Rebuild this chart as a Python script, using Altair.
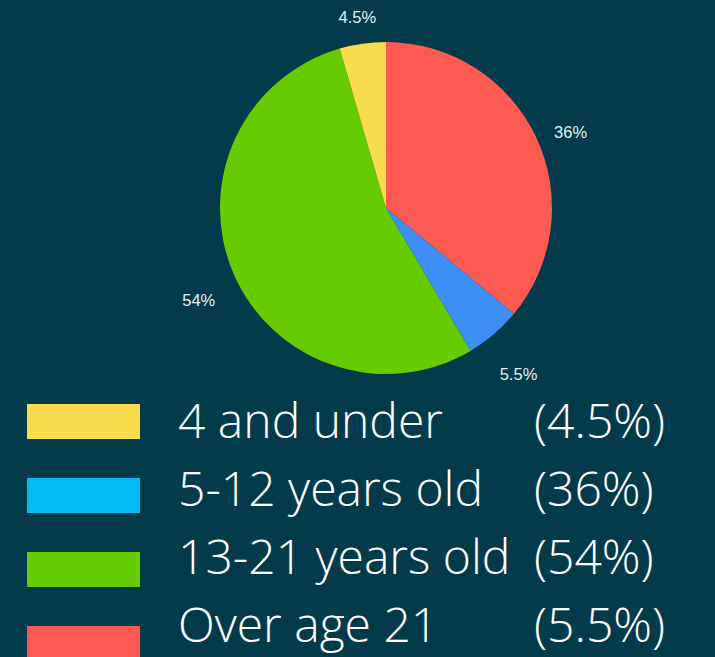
import altair as alt
import pandas as pd

# Pie (clockwise from 12 o'clock)
pie_values = [36, 5.5, 54, 4.5]
pie_labels = ["36%", "5.5%", "54%", "4.5%"]
pie_colors = ["#fd5a52", "#3d8ef5", "#66cc00", "#f8dc4b"]

# Legend block
categories = ["4 and under", "5-12 years old", "13-21 years old", "Over age 21"]
legend_pcts = ["(4.5%)", "(36%)", "(54%)", "(5.5%)"]
legend_colors = ["#f8dc4b", "#00bcf2", "#66cc00", "#fd5a52"]

BG = "#033b4a"

pie_df = pd.DataFrame({
    "idx": list(range(len(pie_values))),
    "value": pie_values,
    "label": pie_labels,
    "color": pie_colors,
})
leg_df = pd.DataFrame({
    "cat": categories,
    "pct": legend_pcts,
    "color": legend_colors,
})

theta = alt.Theta("value:Q", stack=True)
order = alt.Order("idx:Q", sort="ascending")

arc = alt.Chart(pie_df).mark_arc(outerRadius=166, stroke=None).encode(
    theta=theta,
    order=order,
    color=alt.Color("color:N", scale=None),
    x=alt.value(386),
    y=alt.value(208),
)

arc_text = alt.Chart(pie_df).mark_text(
    radius=204, font="Liberation Sans", fontSize=16.5, color="#e8eef0"
).encode(
    theta=theta,
    order=order,
    text="label:N",
    x=alt.value(386),
    y=alt.value(220),
)

rect_y = alt.Y(
    "cat:N",
    scale=alt.Scale(type="band", domain=categories, range=[404, 661],
                    paddingInner=0.527, paddingOuter=0),
    axis=None,
)
rects = alt.Chart(leg_df).mark_rect().encode(
    y=rect_y,
    x=alt.value(27),
    x2=alt.value(140),
    color=alt.Color("color:N", scale=None),
)

text_y = alt.Y(
    "cat:N",
    scale=alt.Scale(type="point", domain=categories, range=[424, 628], padding=0),
    axis=None,
)
names = alt.Chart(leg_df).mark_text(
    align="left", baseline="middle", font="Open Sans", fontWeight=300,
    fontSize=48, color="#ffffff"
).encode(
    y=text_y,
    x=alt.value(178),
    text="cat:N",
)
pcts = alt.Chart(leg_df).mark_text(
    align="left", baseline="middle", font="Open Sans", fontWeight=300,
    fontSize=48, color="#ffffff"
).encode(
    y=text_y,
    x=alt.value(534),
    text="pct:N",
)

legend_layer = alt.layer(rects, names, pcts).resolve_scale(y="independent")

chart = alt.layer(arc, arc_text, legend_layer).properties(
    width=715, height=657,
    autosize=alt.AutoSizeParams(type="none"),
    padding=0,
    background=BG,
).configure_view(stroke=None)

chart.save("out.html", embed_options={"renderer": "svg", "actions": False})
